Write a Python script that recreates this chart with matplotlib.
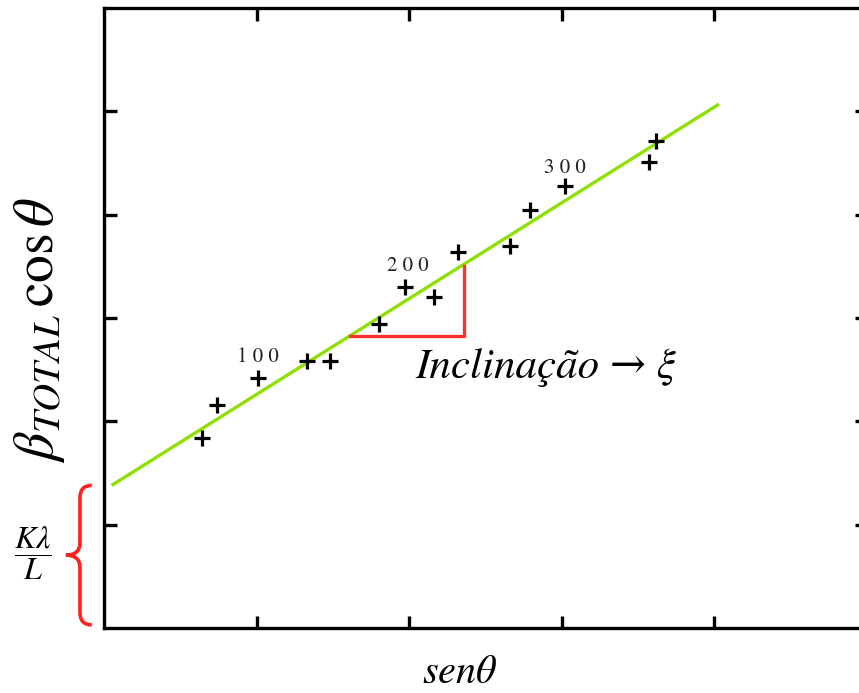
import matplotlib
matplotlib.use('Agg')
import matplotlib.pyplot as plt
import numpy as np
from matplotlib.path import Path
from matplotlib.patches import PathPatch
from matplotlib.transforms import blended_transform_factory

# measured points (sen theta, beta cos theta)
sen_theta = [0.64, 0.74, 1.01, 1.33, 1.48, 1.80, 1.97, 2.16, 2.32, 2.66, 2.79, 3.02, 3.57, 3.62]
beta_cos = [1.84, 2.16, 2.42, 2.58, 2.58, 2.94, 3.30, 3.20, 3.64, 3.70, 4.05, 4.28, 4.51, 4.71]

# fitted straight line (end points)
fit_x = [0.05, 4.03]
fit_y = [1.38, 5.07]
intercept = 1.38

# slope triangle
tri_x = [1.61, 2.36, 2.36]
tri_y = [2.83, 2.83, 3.50]

# hkl labels
hkl_labels = ['1 0 0', '2 0 0', '3 0 0']
hkl_x = [1.01, 1.99, 3.02]
hkl_y = [2.62, 3.50, 4.45]

plt.rcParams['mathtext.fontset'] = 'stix'
plt.rcParams['font.family'] = ['STIXGeneral', 'DejaVu Serif']

fig = plt.figure(figsize=(8.59, 6.93), dpi=100)
ax = fig.add_axes([104 / 859, 65 / 693, 763 / 859, 620 / 693])

ax.plot(fit_x, fit_y, color='#8ee000', lw=2.4, solid_capstyle='butt')
ax.plot(sen_theta, beta_cos, ls='none', marker='+', ms=12, mew=2.3, color='black')
ax.plot(tri_x, tri_y, color='#ff3030', lw=2.4)

for lab, x, y in zip(hkl_labels, hkl_x, hkl_y):
    ax.text(x, y, lab, ha='center', va='center', fontsize=15, color='#202020')

ax.text(2.04, 2.52, 'Inclinação → ξ', ha='left', va='center',
        fontsize=31, style='italic')

ax.set_xlim(0, 5)
ax.set_ylim(0, 6)
ax.set_xticks([1, 2, 3, 4])
ax.set_yticks([1, 2, 3, 4, 5])
ax.tick_params(direction='in', length=9, width=2.4, top=True, right=True,
               labelbottom=False, labelleft=False)
for s in ax.spines.values():
    s.set_linewidth(2.4)

# axis labels
ax.text(-0.084, 0.48, r'$\beta_{TOTAL}\,\mathrm{cos}\,\theta$', transform=ax.transAxes,
        rotation=90, ha='center', va='center', fontsize=40)
ax.text(0.4666, -0.0726, r'$sen\theta$', transform=ax.transAxes,
        ha='center', va='center', fontsize=29)

# intercept brace
tr = blended_transform_factory(ax.transAxes, ax.transData)
xs, xe, xt = -0.0315, -0.016, -0.050
y0, y1 = 0.03, intercept
ym = (y0 + y1) / 2
r = 0.12
verts = [(xe, y1), (xs, y1), (xs, y1 - r),
         (xs, ym + r),
         (xs, ym), (xt, ym),
         (xs, ym), (xs, ym - r),
         (xs, y0 + r),
         (xs, y0), (xe, y0)]
codes = [Path.MOVETO, Path.CURVE3, Path.CURVE3,
         Path.LINETO,
         Path.CURVE3, Path.CURVE3,
         Path.CURVE3, Path.CURVE3,
         Path.LINETO,
         Path.CURVE3, Path.CURVE3]
ax.add_patch(PathPatch(Path(verts, codes), transform=tr, fill=False,
                       edgecolor='#ff2020', lw=2.6, clip_on=False))
ax.text(-0.093, 0.121, r'$\dfrac{K\lambda}{L}$', transform=ax.transAxes,
        ha='center', va='center', fontsize=23)

fig.savefig('out.png', dpi=100)
